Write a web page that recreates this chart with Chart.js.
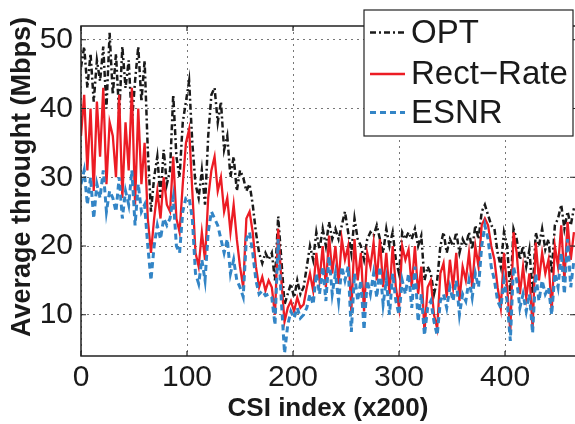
<!DOCTYPE html>
<html>
<head>
<meta charset="utf-8">
<script src="https://cdn.jsdelivr.net/npm/chart.js@4.4.1/dist/chart.umd.min.js"></script>
<style>
  html, body { margin: 0; padding: 0; background: #fff; }
  #wrap { width: 575px; height: 424px; }
</style>
</head>
<body>
<div id="wrap"><canvas id="thr" width="575" height="424"></canvas></div>
<script>

// CSI index samples (x200), every 3rd index
var step = 3;

// OPT throughput (Mbps)
var opt = [
	46, 49, 43, 48, 41, 47, 44, 49, 40, 51,
	42, 48, 39, 49, 43, 47, 38, 44, 49, 41,
	47, 34, 25, 30, 33, 27, 34, 29, 31, 42,
	33, 30, 38, 41, 44, 35, 29, 27, 31, 26,
	36, 42, 43, 38, 41, 34, 36, 30, 33, 28,
	31, 30, 28, 29, 26, 22, 19, 17.5, 19, 18,
	19, 15, 24.3, 18, 11.5, 13, 14.5, 12.5, 15, 13,
	14, 17, 20, 18, 22, 19.5, 22.5, 20, 23.5, 21,
	22.5, 21, 23, 25, 22, 19, 24, 21, 20, 18,
	21, 22, 21.5, 23, 21, 19, 22.5, 20, 22, 18,
	16, 22, 21, 22, 21, 22.5, 20, 21.5, 15, 17,
	16, 13, 15, 20, 22, 19, 21, 20, 22, 19,
	21, 20, 22, 19.5, 23, 21, 25, 26, 24.5, 23,
	22.5, 19, 17, 22, 20, 13, 22.5, 21, 18, 20,
	17, 19.5, 13, 22, 20, 22.5, 19.5, 21, 16, 23,
	24, 26, 22.5, 25, 23, 25.5
];

// Rect-Rate throughput (Mbps)
var rect = [
	36, 42, 31, 40, 28, 41, 33, 43, 29, 38,
	36, 30, 42, 27, 38, 31, 43, 26, 40, 29,
	35, 24, 19, 24, 28, 24, 30, 26, 25, 33,
	24, 22, 29, 35, 37, 28, 19, 17, 22, 18,
	27, 31, 33, 28, 30, 25, 27, 22, 26, 21,
	17, 14, 24, 25, 22, 17, 14, 15.5, 13.5, 15,
	14, 10, 22.5, 15, 9, 11, 12, 10.5, 12.5, 11,
	11.5, 14, 16, 13.5, 19, 15, 20, 14, 21.5, 16,
	20, 14.5, 21, 18, 20, 10.5, 21, 15, 19, 10.5,
	19, 17, 20.5, 15, 21, 14, 19, 13, 20, 14,
	11, 20, 18, 19.5, 14, 20, 13, 17, 7.5, 14,
	15, 10, 8, 16, 17.5, 12.5, 18, 14, 19, 12,
	17, 15, 19, 14, 20, 17, 23, 24, 23, 20,
	18, 14, 11, 19, 14, 7.5, 22, 19, 13, 17,
	12.5, 16, 8, 20.5, 15, 19, 16, 18, 10.5, 20,
	17, 23, 15, 23.5, 18, 22
];

// ESNR throughput (Mbps)
var esnr = [
	29, 31, 26, 30, 24, 29, 27, 31, 25, 28,
	27, 25, 30, 24, 28, 26, 31, 23, 29, 25,
	26, 20, 15, 20, 23, 21, 24, 23, 24, 27,
	20, 19, 25, 27, 27, 24, 16, 14.5, 18, 15,
	22, 25, 24, 23, 21, 19, 21, 16, 18, 15,
	14, 12.6, 21, 22, 19, 15, 13, 13.5, 12.8, 13,
	12.5, 8.5, 21, 12, 4.4, 8.5, 10.5, 9.5, 11, 9.5,
	10, 11, 13, 11.5, 16, 13, 17, 12, 18.5, 13,
	16, 12, 17, 15, 17, 7.5, 16, 12, 15, 7.8,
	15, 13, 16, 12.5, 17, 11.5, 15, 10, 16, 12,
	10, 15, 13, 16, 11, 17, 9, 13, 7, 11,
	12, 9, 7, 12, 13, 11, 14, 12, 15, 10,
	13, 12, 15, 12.5, 16, 14, 20, 23, 21, 17,
	15, 12, 11, 15, 12, 6.2, 17, 15, 11, 13,
	10.5, 13, 7.3, 16, 12, 15, 13, 14, 10, 16,
	14, 19, 13, 21, 14, 18
];

var xTicks = [0, 100, 200, 300, 400];
var yTicks = [10, 20, 30, 40, 50];
var yTitle = 'Average throught (Mbps)';

function toPoints(vals){
	var pts = [];
	for (var i = 0; i < vals.length; i++){
		pts.push({ x: i * step, y: vals[i] });
	}
	return pts;
}

// frame, inner ticks, y title and the boxed legend (MATLAB look)
var matlabFrame = {
	id: 'matlabFrame',
	afterDraw: function(chart){
		var ctx = chart.ctx;
		var a = chart.chartArea;
		var xs = chart.scales.x, ys = chart.scales.y;
		ctx.save();
		ctx.strokeStyle = '#222';
		ctx.lineWidth = 1.5;
		ctx.setLineDash([]);
		ctx.beginPath();
		ctx.moveTo(a.right + 2, a.top);
		ctx.lineTo(a.left, a.top);
		ctx.lineTo(a.left, a.bottom);
		ctx.lineTo(a.right + 2, a.bottom);
		ctx.stroke();

		ctx.lineWidth = 1.2;
		ctx.beginPath();
		xTicks.forEach(function(v){
			var px = xs.getPixelForValue(v);
			ctx.moveTo(px, a.bottom); ctx.lineTo(px, a.bottom - 5);
			ctx.moveTo(px, a.top); ctx.lineTo(px, a.top + 5);
		});
		yTicks.forEach(function(v){
			var py = ys.getPixelForValue(v);
			ctx.moveTo(a.left, py); ctx.lineTo(a.left + 5, py);
			ctx.moveTo(a.right, py); ctx.lineTo(a.right - 5, py);
		});
		ctx.stroke();

		// y axis title
		ctx.save();
		ctx.translate(23, 177);
		ctx.rotate(-Math.PI / 2);
		ctx.font = 'bold 27px "Liberation Sans", Arial, sans-serif';
		ctx.textAlign = 'center';
		ctx.textBaseline = 'middle';
		ctx.fillStyle = '#1a1a1a';
		ctx.fillText(yTitle, 0, 0);
		ctx.restore();

		// legend box
		var bx = 364, by = 10, bw = 209, bh = 126;
		ctx.fillStyle = '#fff';
		ctx.fillRect(bx, by, bw, bh);
		ctx.strokeStyle = '#222';
		ctx.lineWidth = 1.2;
		ctx.strokeRect(bx, by, bw, bh);
		var rows = [32.5, 74, 112.5];
		ctx.font = '33px "Liberation Sans", Arial, sans-serif';
		ctx.textBaseline = 'middle';
		chart.data.datasets.forEach(function(ds, i){
			var y = rows[i];
			ctx.strokeStyle = ds.borderColor;
			ctx.lineWidth = ds.borderWidth;
			ctx.setLineDash(ds.borderDash || []);
			ctx.beginPath();
			ctx.moveTo(370, y); ctx.lineTo(405, y);
			ctx.stroke();
			ctx.setLineDash([]);
			ctx.fillStyle = '#1a1a1a';
			ctx.fillText(ds.label, 411, y + 1);
		});
		ctx.restore();
	}
};

var ctx = document.getElementById('thr');
var chart_line = new Chart(ctx, {
	type: 'line',
	data: {
		datasets: [{
			label: 'OPT',
			data: toPoints(opt),
			borderColor: '#1a1a1a',
			borderWidth: 2.5,
			borderDash: [6, 3, 2, 3],
			pointRadius: 0,
			tension: 0,
			order: 3
		}, {
			label: 'Rect\u2212Rate',
			data: toPoints(rect),
			borderColor: '#ec1c24',
			borderWidth: 2.3,
			pointRadius: 0,
			tension: 0,
			order: 2
		}, {
			label: 'ESNR',
			data: toPoints(esnr),
			borderColor: '#3385c6',
			borderWidth: 3,
			borderDash: [6, 4],
			pointRadius: 0,
			tension: 0,
			order: 1
		}]
	},
	options: {
		responsive: false,
		animation: false,
		layout: { padding: { left: 0, right: 0, top: 3, bottom: 0 } },
		plugins: {
			legend: { display: false },
			tooltip: { enabled: false }
		},
		scales: {
			x: {
				type: 'linear',
				min: 0,
				max: 466,
				afterBuildTicks: function(s){ s.ticks = xTicks.map(function(v){ return { value: v }; }); },
				afterFit: function(s){ s.height = 68; },
				border: { display: false, dash: [2, 4] },
				grid: {
					color: '#777',
					lineWidth: 1,
					drawTicks: false
				},
				ticks: {
					padding: 4,
					color: '#1a1a1a',
					font: { family: '"Liberation Sans", Arial, sans-serif', size: 30 },
					maxRotation: 0
				},
				title: {
					display: true,
					text: 'CSI index (x200)',
					color: '#1a1a1a',
					font: { family: '"Liberation Sans", Arial, sans-serif', size: 26, weight: 'bold' },
					padding: { top: 4, bottom: 0 }
				}
			},
			y: {
				min: 4,
				max: 52,
				afterBuildTicks: function(s){ s.ticks = yTicks.map(function(v){ return { value: v }; }); },
				afterFit: function(s){ s.width = 81; },
				border: { display: false, dash: [2, 4] },
				grid: {
					color: '#777',
					lineWidth: 1,
					drawTicks: false
				},
				ticks: {
					padding: 8,
					color: '#1a1a1a',
					font: { family: '"Liberation Sans", Arial, sans-serif', size: 30 }
				}
			}
		}
	},
	plugins: [matlabFrame]
});

</script>
</body>
</html>
